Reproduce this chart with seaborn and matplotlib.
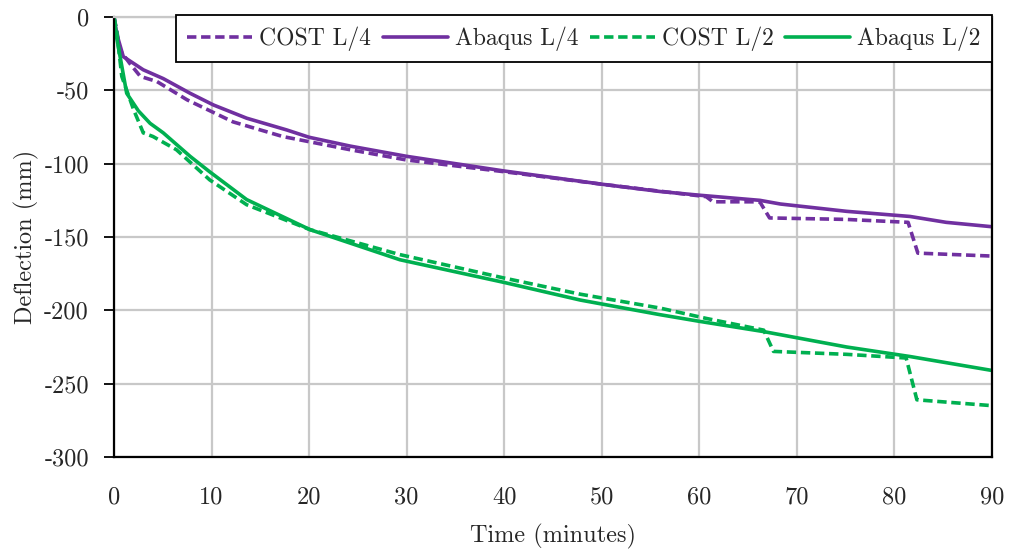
import numpy as np
import pandas as pd
import matplotlib
matplotlib.use("Agg")
import matplotlib.pyplot as plt
import seaborn as sns

# ---- data ----
t_cost_l4 = [0, 0.3, 0.6, 1.6, 2.7, 4.4, 7.5, 12.2, 17.3, 24.2, 30, 40, 50, 55, 60.7, 61.4, 66.2, 67.2, 75, 81.4, 82.4, 90]
d_cost_l4 = [0, -10, -22.5, -31.5, -40.5, -44, -56.5, -71.5, -81.5, -90.5, -97.5, -105.5, -114, -118, -122.5, -126, -126, -137, -138, -140, -161, -163]

t_abaqus_l4 = [0, 0.3, 0.95, 3.0, 5.05, 7.8, 10.2, 13.6, 17.7, 20, 24.2, 30, 40, 47.8, 50, 56, 60, 66.2, 68.3, 75.1, 81.6, 85.3, 90]
d_abaqus_l4 = [0, -12, -27, -36, -42, -52, -60, -69, -77, -82, -88, -95, -105, -112, -114, -119, -121.5, -125, -127.5, -132.5, -136, -140, -143]

t_cost_l2 = [0, 0.3, 0.8, 2.0, 3.0, 4.0, 6.4, 9.8, 13.6, 20.1, 29.3, 40, 47.8, 56, 60.7, 66.6, 67.6, 75.1, 81.2, 82.3, 90]
d_cost_l2 = [0, -11, -40.5, -63, -79, -81.5, -90.5, -111, -128, -145, -162, -178, -189, -198.5, -205.5, -213.5, -228, -230, -232.5, -261, -265]

t_abaqus_l2 = [0, 0.3, 1.3, 2.5, 3.7, 5.05, 7.8, 9.8, 13.6, 20.1, 29.3, 40, 47.8, 56, 60, 66.6, 75.1, 81.6, 90]
d_abaqus_l2 = [0, -15, -52, -64, -72.5, -79, -95, -105.5, -124.5, -145, -165.5, -181, -193, -203, -207.5, -214.5, -225, -231.5, -241]

series_names = ["COST L/4", "Abaqus L/4", "COST L/2", "Abaqus L/2"]
x_ticks = [0, 10, 20, 30, 40, 50, 60, 70, 80, 90]
y_ticks = [0, -50, -100, -150, -200, -250, -300]
y_tick_labels = ["0", "-50", "-100", "-150", "-200", "-250", "-300"]

PURPLE = "#7030A0"
GREEN = "#00B050"

sns.set_theme(style="white")
plt.rcParams["font.family"] = ["cmr10", "DejaVu Serif"]
plt.rcParams["mathtext.fontset"] = "cm"
plt.rcParams["axes.unicode_minus"] = False

fig = plt.figure(figsize=(10.11, 5.54), dpi=100)
ax = fig.add_axes([114 / 1011, 1 - 457 / 554, (992 - 114) / 1011, (457 - 17) / 554])

series = [
    (t_cost_l4, d_cost_l4, PURPLE, True),
    (t_abaqus_l4, d_abaqus_l4, PURPLE, False),
    (t_cost_l2, d_cost_l2, GREEN, True),
    (t_abaqus_l2, d_abaqus_l2, GREEN, False),
]
for name, (t, d, c, dashed) in zip(series_names, series):
    df = pd.DataFrame({"t": t, "d": d})
    sns.lineplot(data=df, x="t", y="d", ax=ax, color=c, lw=2.6,
                 sort=False, label=name, estimator=None)
    ln = ax.lines[-1]
    if dashed:
        ln.set_dashes((2.6, 1.3))

ax.set_xlim(0, 90)
ax.set_ylim(-300, 0)
ax.set_xticks(x_ticks)
ax.set_xticklabels([str(v) for v in x_ticks])
ax.set_yticks(y_ticks)
ax.set_yticklabels(y_tick_labels)
ax.grid(True, color="#c8c8c8", lw=1.6)
ax.set_axisbelow(True)

for s in ["left", "bottom", "right"]:
    ax.spines[s].set_color("black")
    ax.spines[s].set_linewidth(1.6)
ax.spines["top"].set_color("#c8c8c8")
ax.spines["top"].set_linewidth(1.6)

ax.tick_params(axis="y", which="both", left=True, length=7, width=1.3, color="black",
               labelsize=17.5, pad=11)
ax.tick_params(axis="x", which="both", bottom=False, labelsize=17.5, pad=15)

ax.set_xlabel("Time (minutes)", fontsize=17.5, labelpad=11)
ax.set_ylabel("Deflection (mm)", fontsize=17.5, labelpad=4)

x0 = (176 - 114) / 878
leg = ax.legend(loc="upper left", bbox_to_anchor=(x0, 1.004, 1 - x0, 0.0),
                mode="expand", ncol=4, fontsize=17, frameon=True, fancybox=False,
                edgecolor="black", handlelength=2.75, handletextpad=0.3,
                columnspacing=0.5, borderpad=0.48, borderaxespad=0.0)
leg.get_frame().set_linewidth(1.3)
leg.get_frame().set_facecolor("white")
leg.get_frame().set_alpha(1.0)

fig.savefig("out.png", dpi=100)
